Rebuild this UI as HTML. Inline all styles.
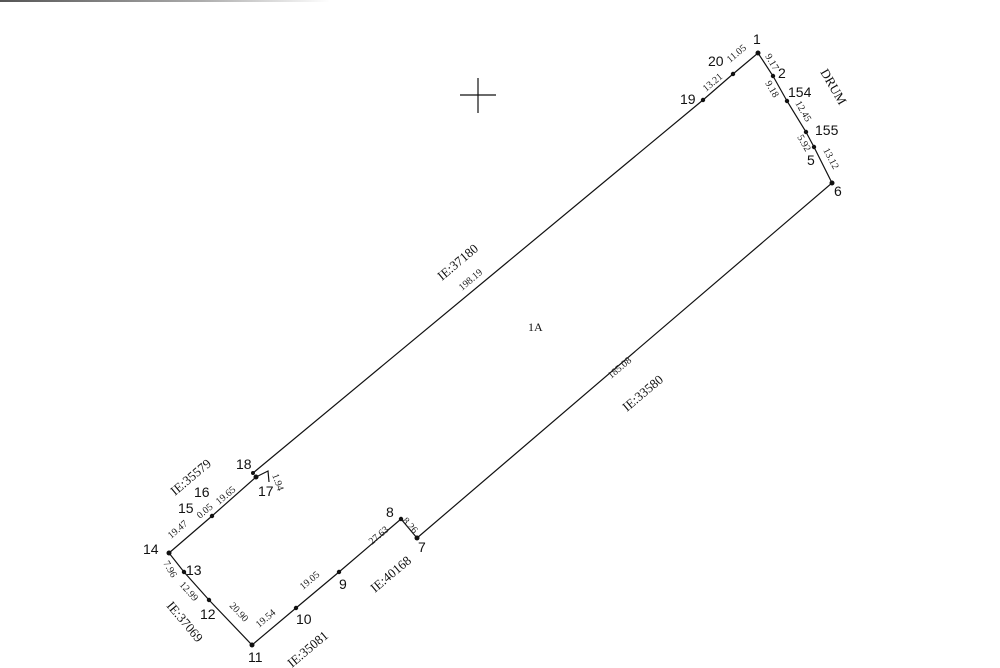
<!DOCTYPE html>
<html><head><meta charset="utf-8"><style>
html,body{margin:0;padding:0;background:#fff;}
svg{display:block;}
.n{font-family:"Liberation Sans",sans-serif;font-size:14px;fill:#111;}
.d{font-family:"Liberation Serif",serif;font-size:10px;fill:#222;}
.ie{font-family:"Liberation Serif",serif;font-size:13px;fill:#111;}
</style></head><body>
<svg width="1000" height="668" viewBox="0 0 1000 668" xmlns="http://www.w3.org/2000/svg">
<defs><linearGradient id="g" x1="0" x2="1"><stop offset="0" stop-color="#555"/><stop offset="0.6" stop-color="#aaa"/><stop offset="1" stop-color="#fff"/></linearGradient></defs>
<rect x="0" y="0" width="330" height="2" fill="url(#g)"/>
<g stroke="#111" stroke-width="1.2" fill="none">
<line x1="460" y1="95" x2="496" y2="95"/>
<line x1="478" y1="78" x2="478" y2="113"/>
<polyline points="253,473 703,100 733,74 758,53 773,76 787,101 806,132 814,147 832,183 417,538 401,519 339,572 296,608 252,645 209,600 184,572 169,553 212,516 256,477"/>
<polyline points="256,477 268,471 269,482"/>
</g>
<g fill="#111">
<circle cx="758" cy="53" r="2.5"/><circle cx="733" cy="74" r="2.2"/><circle cx="703" cy="100" r="2.2"/>
<circle cx="773" cy="76" r="2.2"/><circle cx="787" cy="101" r="2.2"/><circle cx="806" cy="132" r="2.2"/>
<circle cx="814" cy="147" r="2.2"/><circle cx="832" cy="183" r="2.5"/><circle cx="417" cy="538" r="2.5"/>
<circle cx="401" cy="519" r="2.2"/><circle cx="339" cy="572" r="2.2"/><circle cx="296" cy="608" r="2.2"/>
<circle cx="252" cy="645" r="2.5"/><circle cx="209" cy="600" r="2.2"/><circle cx="184" cy="572" r="2.2"/>
<circle cx="169" cy="553" r="2.5"/><circle cx="212" cy="516" r="2.2"/><circle cx="256" cy="477" r="2.5"/><circle cx="253" cy="473" r="2"/>
</g>
<g class="n">
<text x="753" y="44">1</text><text x="708" y="66">20</text><text x="680" y="104">19</text>
<text x="778" y="78">2</text><text x="788" y="97">154</text><text x="815" y="135">155</text>
<text x="807" y="165">5</text><text x="834" y="196">6</text><text x="418" y="552">7</text>
<text x="386" y="517">8</text><text x="339" y="589">9</text><text x="296" y="624">10</text>
<text x="248" y="662">11</text><text x="200" y="619">12</text><text x="186" y="575">13</text>
<text x="143" y="554">14</text><text x="178" y="513">15</text><text x="194" y="497">16</text>
<text x="258" y="496">17</text><text x="236" y="469">18</text>
<text x="528" y="331" style="font-family:'Liberation Serif',serif;font-size:12px">1A</text>
</g>
<g class="d">
<text transform="translate(706,92) rotate(-40)">13.21</text>
<text transform="translate(730,63) rotate(-40)">11.05</text>
<text transform="translate(765,56) rotate(60)">9.17</text>
<text transform="translate(765,83) rotate(60)">9.18</text>
<text transform="translate(795,103) rotate(60)">12.45</text>
<text transform="translate(797,137) rotate(60)">5.92</text>
<text transform="translate(823,150) rotate(62)">13.12</text>
<text transform="translate(462,291) rotate(-40)">198.19</text>
<text transform="translate(611,379) rotate(-40)">185.08</text>
<text transform="translate(402,521) rotate(48)">8.26</text>
<text transform="translate(372,545) rotate(-40)">27.63</text>
<text transform="translate(303,590) rotate(-40)">19.05</text>
<text transform="translate(259,628) rotate(-40)">19.54</text>
<text transform="translate(229,606) rotate(47)">20.90</text>
<text transform="translate(179,585) rotate(48)">12.99</text>
<text transform="translate(163,563) rotate(60)">7.96</text>
<text transform="translate(171,539) rotate(-40)">19.47</text>
<text transform="translate(200,519) rotate(-40)">0.05</text>
<text transform="translate(219,505) rotate(-40)">19.65</text>
<text transform="translate(272,475) rotate(70)">1.94</text>
</g>
<g class="ie">
<text transform="translate(820,72) rotate(60)">DRUM</text>
<text transform="translate(442,281) rotate(-40)">IE:37180</text>
<text transform="translate(627,412) rotate(-40)">IE:33580</text>
<text transform="translate(375,593) rotate(-40)">IE:40168</text>
<text transform="translate(292,668) rotate(-40)">IE:35081</text>
<text transform="translate(166,606) rotate(50)">IE:37069</text>
<text transform="translate(175,496) rotate(-40)">IE:35579</text>
</g>
</svg>
</body></html>
